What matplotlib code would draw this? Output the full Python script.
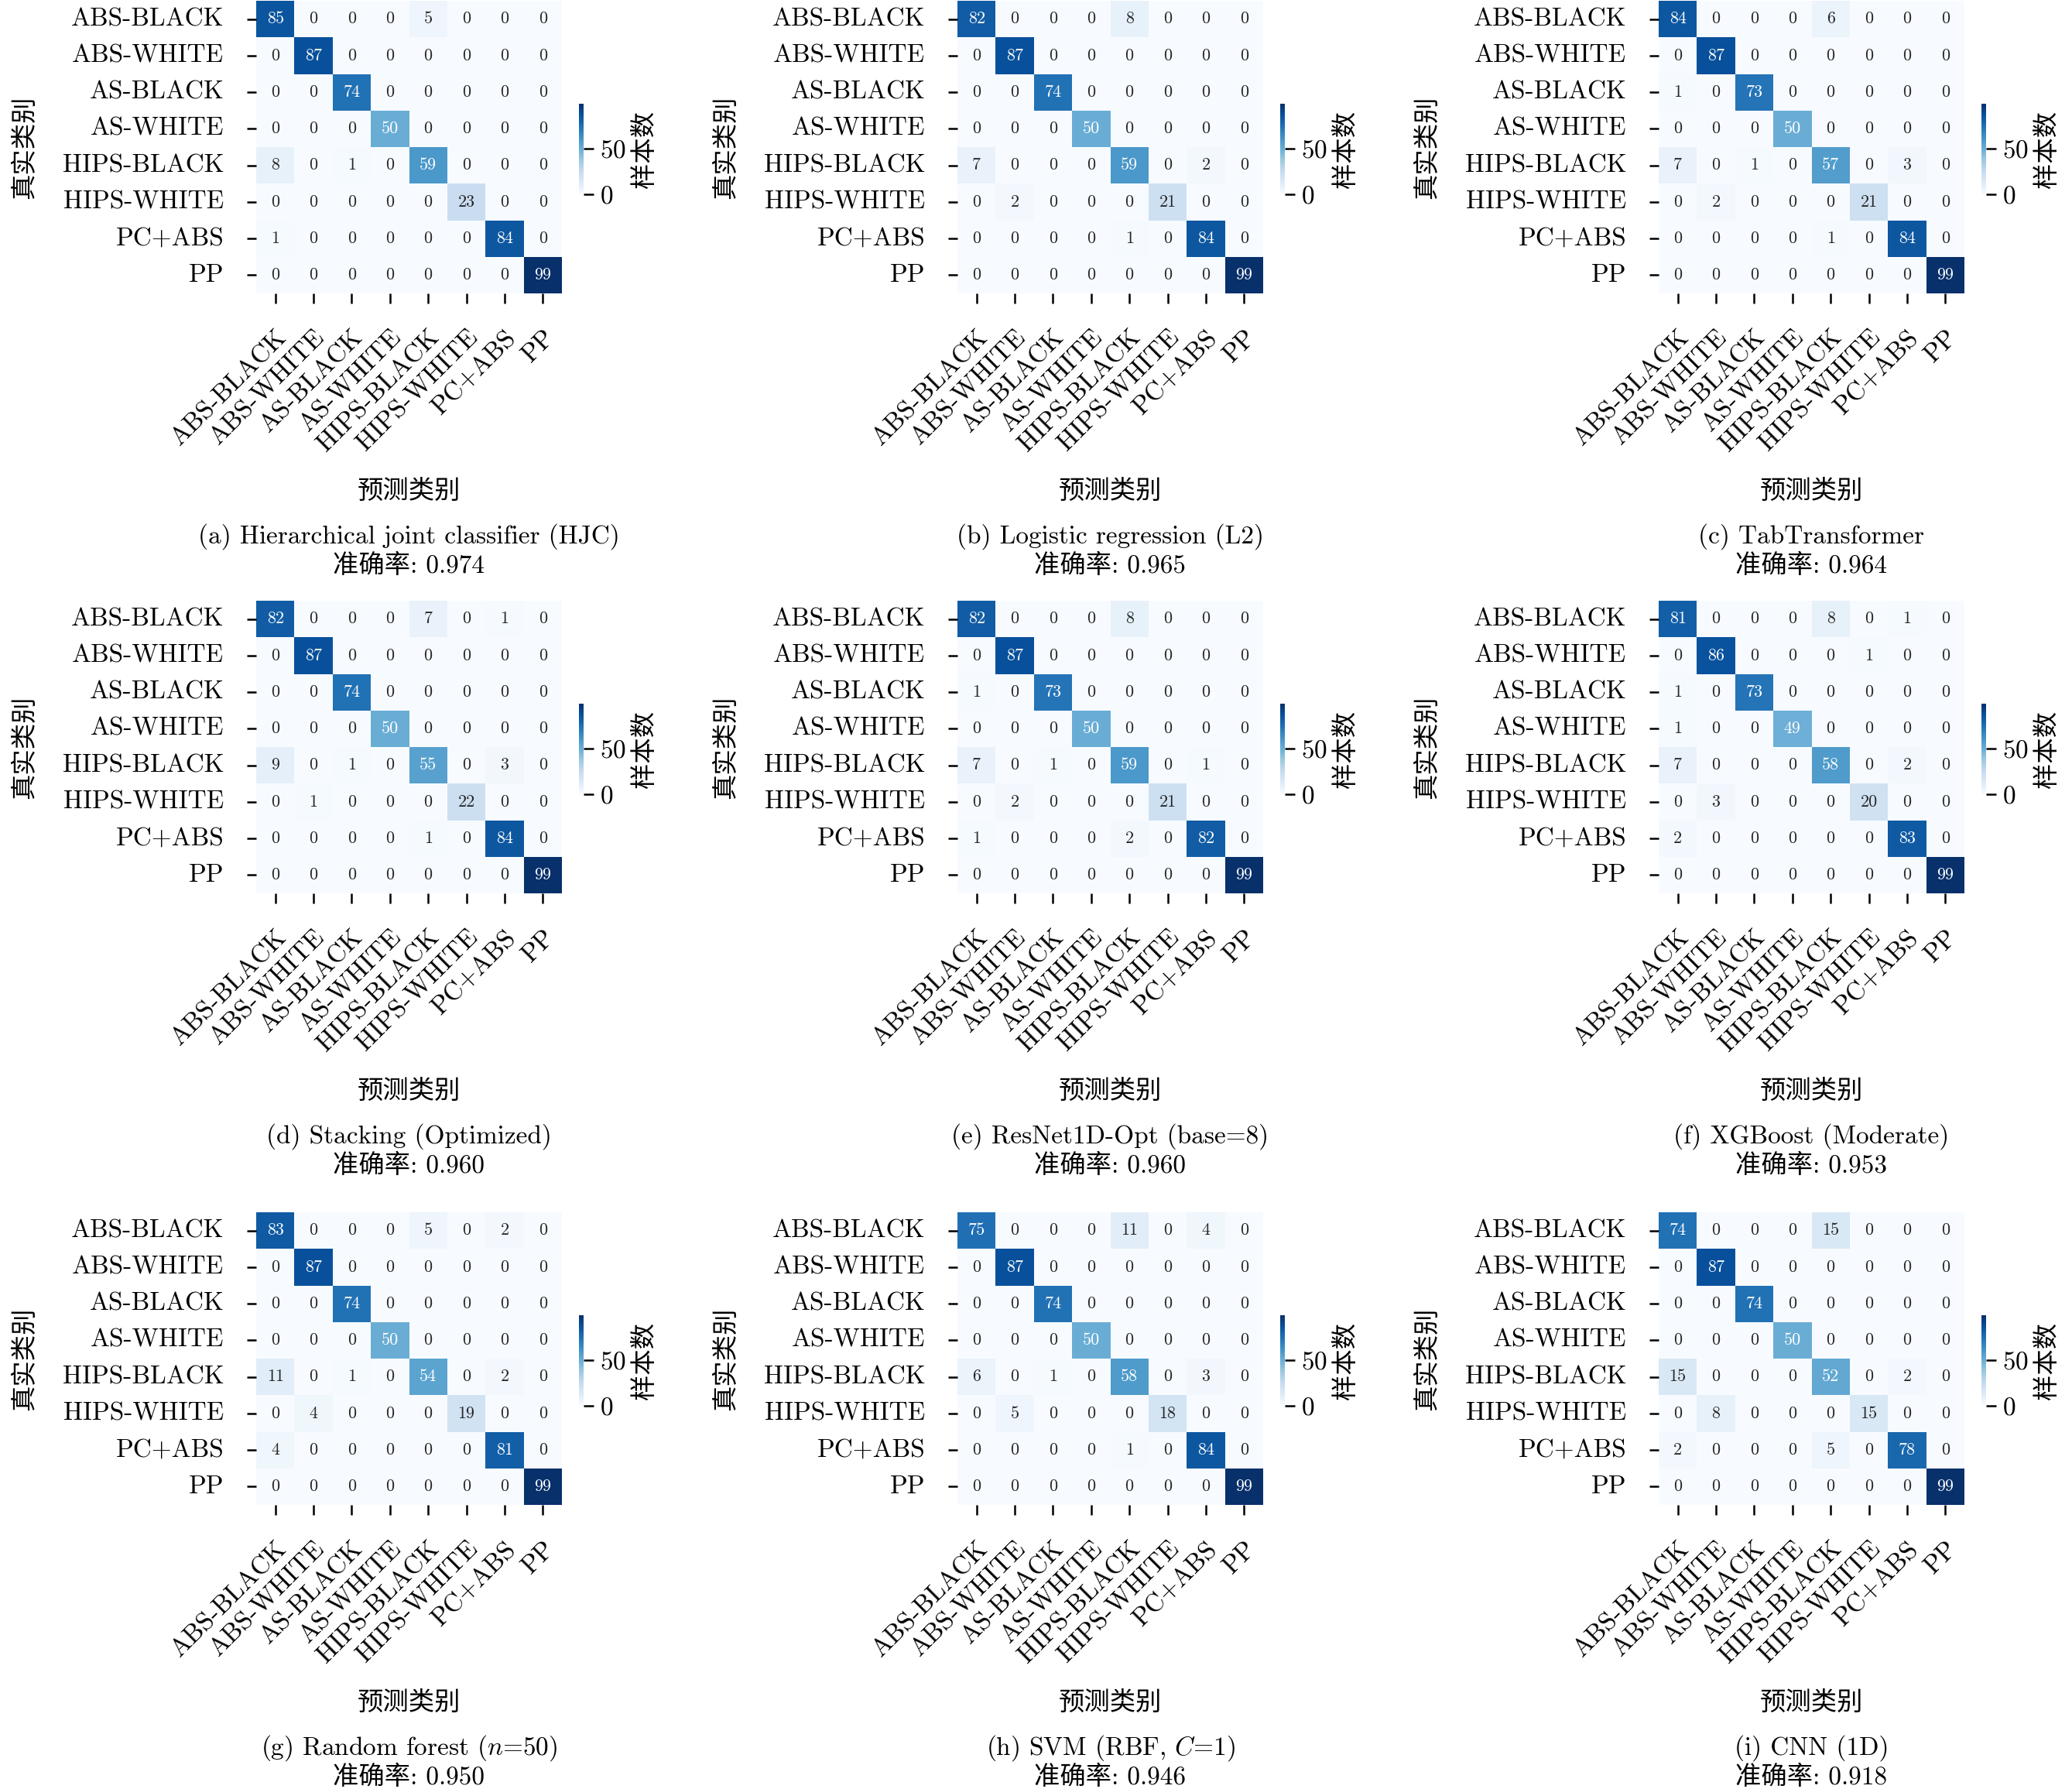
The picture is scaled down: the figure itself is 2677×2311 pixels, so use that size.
import numpy as np
import matplotlib
matplotlib.use('Agg')
import matplotlib.pyplot as plt
import seaborn as sns

plt.rcParams['font.family'] = ['cmr10', 'Noto Sans CJK SC']
plt.rcParams['mathtext.fontset'] = 'cm'
plt.rcParams['axes.formatter.use_mathtext'] = True
plt.rcParams['axes.unicode_minus'] = False

classes = ['ABS-BLACK', 'ABS-WHITE', 'AS-BLACK', 'AS-WHITE',
           'HIPS-BLACK', 'HIPS-WHITE', 'PC+ABS', 'PP']

# confusion matrices (rows = true class, cols = predicted class)
cm_hjc = [[85, 0, 0, 0, 5, 0, 0, 0],
          [0, 87, 0, 0, 0, 0, 0, 0],
          [0, 0, 74, 0, 0, 0, 0, 0],
          [0, 0, 0, 50, 0, 0, 0, 0],
          [8, 0, 1, 0, 59, 0, 0, 0],
          [0, 0, 0, 0, 0, 23, 0, 0],
          [1, 0, 0, 0, 0, 0, 84, 0],
          [0, 0, 0, 0, 0, 0, 0, 99]]

cm_lr = [[82, 0, 0, 0, 8, 0, 0, 0],
         [0, 87, 0, 0, 0, 0, 0, 0],
         [0, 0, 74, 0, 0, 0, 0, 0],
         [0, 0, 0, 50, 0, 0, 0, 0],
         [7, 0, 0, 0, 59, 0, 2, 0],
         [0, 2, 0, 0, 0, 21, 0, 0],
         [0, 0, 0, 0, 1, 0, 84, 0],
         [0, 0, 0, 0, 0, 0, 0, 99]]

cm_tab = [[84, 0, 0, 0, 6, 0, 0, 0],
          [0, 87, 0, 0, 0, 0, 0, 0],
          [1, 0, 73, 0, 0, 0, 0, 0],
          [0, 0, 0, 50, 0, 0, 0, 0],
          [7, 0, 1, 0, 57, 0, 3, 0],
          [0, 2, 0, 0, 0, 21, 0, 0],
          [0, 0, 0, 0, 1, 0, 84, 0],
          [0, 0, 0, 0, 0, 0, 0, 99]]

cm_stack = [[82, 0, 0, 0, 7, 0, 1, 0],
            [0, 87, 0, 0, 0, 0, 0, 0],
            [0, 0, 74, 0, 0, 0, 0, 0],
            [0, 0, 0, 50, 0, 0, 0, 0],
            [9, 0, 1, 0, 55, 0, 3, 0],
            [0, 1, 0, 0, 0, 22, 0, 0],
            [0, 0, 0, 0, 1, 0, 84, 0],
            [0, 0, 0, 0, 0, 0, 0, 99]]

cm_resnet = [[82, 0, 0, 0, 8, 0, 0, 0],
             [0, 87, 0, 0, 0, 0, 0, 0],
             [1, 0, 73, 0, 0, 0, 0, 0],
             [0, 0, 0, 50, 0, 0, 0, 0],
             [7, 0, 1, 0, 59, 0, 1, 0],
             [0, 2, 0, 0, 0, 21, 0, 0],
             [1, 0, 0, 0, 2, 0, 82, 0],
             [0, 0, 0, 0, 0, 0, 0, 99]]

cm_xgb = [[81, 0, 0, 0, 8, 0, 1, 0],
          [0, 86, 0, 0, 0, 1, 0, 0],
          [1, 0, 73, 0, 0, 0, 0, 0],
          [1, 0, 0, 49, 0, 0, 0, 0],
          [7, 0, 0, 0, 58, 0, 2, 0],
          [0, 3, 0, 0, 0, 20, 0, 0],
          [2, 0, 0, 0, 0, 0, 83, 0],
          [0, 0, 0, 0, 0, 0, 0, 99]]

cm_rf = [[83, 0, 0, 0, 5, 0, 2, 0],
         [0, 87, 0, 0, 0, 0, 0, 0],
         [0, 0, 74, 0, 0, 0, 0, 0],
         [0, 0, 0, 50, 0, 0, 0, 0],
         [11, 0, 1, 0, 54, 0, 2, 0],
         [0, 4, 0, 0, 0, 19, 0, 0],
         [4, 0, 0, 0, 0, 0, 81, 0],
         [0, 0, 0, 0, 0, 0, 0, 99]]

cm_svm = [[75, 0, 0, 0, 11, 0, 4, 0],
          [0, 87, 0, 0, 0, 0, 0, 0],
          [0, 0, 74, 0, 0, 0, 0, 0],
          [0, 0, 0, 50, 0, 0, 0, 0],
          [6, 0, 1, 0, 58, 0, 3, 0],
          [0, 5, 0, 0, 0, 18, 0, 0],
          [0, 0, 0, 0, 1, 0, 84, 0],
          [0, 0, 0, 0, 0, 0, 0, 99]]

cm_cnn = [[74, 0, 0, 0, 15, 0, 0, 0],
          [0, 87, 0, 0, 0, 0, 0, 0],
          [0, 0, 74, 0, 0, 0, 0, 0],
          [0, 0, 0, 50, 0, 0, 0, 0],
          [15, 0, 0, 0, 52, 0, 2, 0],
          [0, 8, 0, 0, 0, 15, 0, 0],
          [2, 0, 0, 0, 5, 0, 78, 0],
          [0, 0, 0, 0, 0, 0, 0, 99]]

matrices = [cm_hjc, cm_lr, cm_tab, cm_stack, cm_resnet, cm_xgb, cm_rf, cm_svm, cm_cnn]

titles = ['(a) Hierarchical joint classifier (HJC)',
          '(b) Logistic regression (L2)',
          '(c) TabTransformer',
          '(d) Stacking (Optimized)',
          '(e) ResNet1D-Opt (base=8)',
          '(f) XGBoost (Moderate)',
          '(g) Random forest ($n$=50)',
          '(h) SVM (RBF, $C$=1)',
          '(i) CNN (1D)']
accuracies = ['0.974', '0.965', '0.964', '0.960', '0.960', '0.953', '0.950', '0.946', '0.918']

W, H = 2677, 2311
fig = plt.figure(figsize=(W / 300, H / 300), dpi=300)

col_left = [331, 1237, 2143]
row_top = [1, 776, 1566]
hm_w, hm_h = 395, 378

for k, cm in enumerate(matrices):
    r, c = divmod(k, 3)
    x0, y0 = col_left[c], row_top[r]
    ax = fig.add_axes([x0 / W, 1 - (y0 + hm_h) / H, hm_w / W, hm_h / H])
    cax = fig.add_axes([(x0 + 417) / W, 1 - (y0 + 250) / H, 6 / W, 117 / H])

    sns.heatmap(np.array(cm), annot=True, fmt='d', cmap='Blues', ax=ax, cbar_ax=cax,
                xticklabels=classes, yticklabels=classes,
                annot_kws={'fontsize': 5.3})

    ax.tick_params(axis='both', length=3, width=0.6, pad=7, labelsize=8)
    ax.set_xticklabels(classes, rotation=45, ha='right', rotation_mode='anchor')
    ax.set_yticklabels(classes, rotation=0)

    ax.set_xlabel('预测类别', fontsize=8)
    ax.xaxis.set_label_coords(0.5, -0.676)
    ax.xaxis.label.set_va('center')
    ax.set_ylabel('真实类别', fontsize=8)
    ax.yaxis.set_label_coords(-0.759, 0.5)
    ax.yaxis.label.set_va('center')

    ax.text(0.5, -0.830, titles[k], transform=ax.transAxes,
            ha='center', va='center', fontsize=8)
    ax.text(0.5, -0.930, '准确率: ' + accuracies[k], transform=ax.transAxes,
            ha='center', va='center', fontsize=8)

    cbar = ax.collections[0].colorbar
    cbar.outline.set_visible(False)
    cbar.set_ticks([0, 50])
    cbar.ax.tick_params(length=3, width=0.6, pad=2, labelsize=8)
    cbar.set_label('样本数', fontsize=8)
    cax.yaxis.set_label_coords(14, 0.5)
    cax.yaxis.label.set_va('center')

fig.savefig('out.png', dpi=300)
